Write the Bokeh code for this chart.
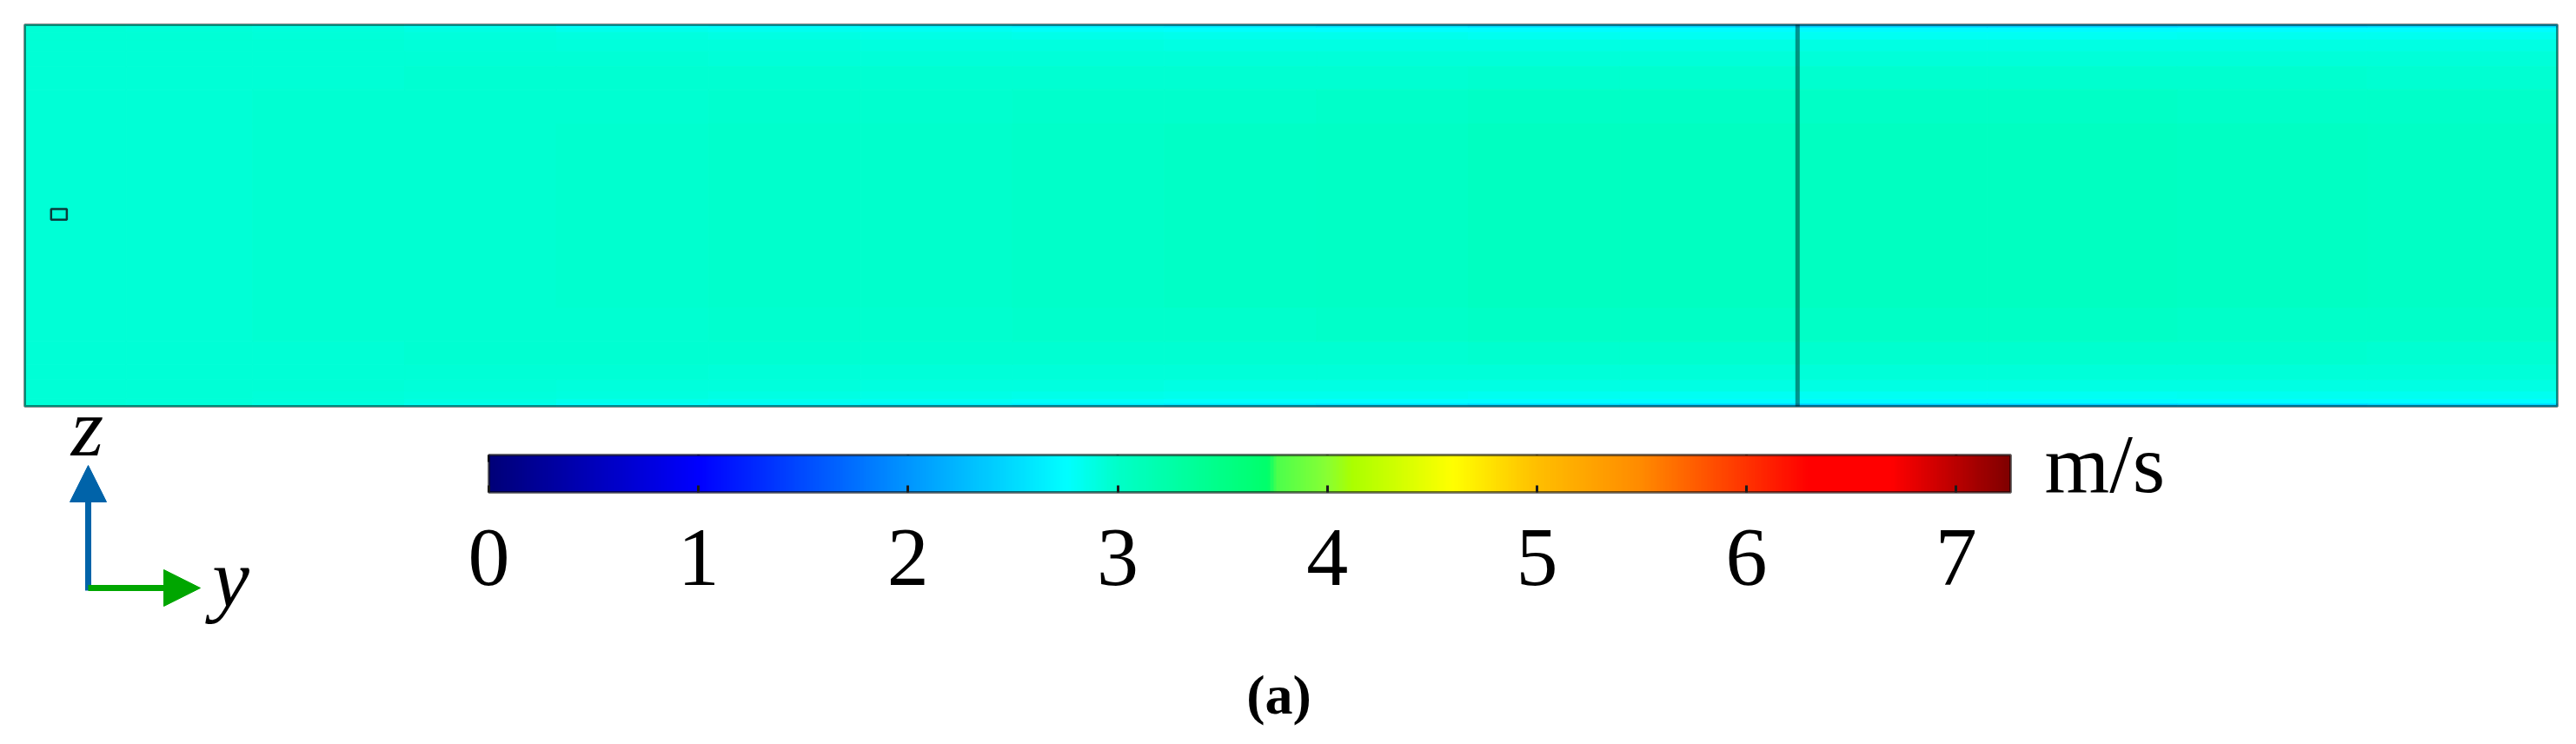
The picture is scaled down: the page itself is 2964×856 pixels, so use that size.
import numpy as np
from bokeh.plotting import figure
from bokeh.models import (Range1d, LinearColorMapper, ColorBar, FixedTicker, Label,
                          Arrow, NormalHead, ColumnDataSource)
from bokeh.embed import file_html
from bokeh.resources import INLINE

# ---------------- data ----------------
field_length = 10.0   # y extent (m)
field_height = 1.5    # z extent (m)

# column edges along y (m)
y_edges = [0.0, 0.4, 0.9, 1.5, 2.1, 2.7, 3.3, 3.9, 4.5, 5.1, 5.7, 6.3, 7.0, 7.75, 8.5, 9.25, 10.0]
# layer edges measured from each wall towards mid-height (m); last one bounds the core
wall_dist = [0.0, 0.012, 0.03, 0.06, 0.105, 0.165, 0.255, 0.39]

# velocity magnitude (m/s) per column: wall layer -> ... -> core (profile symmetric in z)
speed_profiles = [
    [2.93, 2.94, 2.94, 2.94, 2.94, 2.94, 2.94, 2.94],
    [2.91, 2.93, 2.94, 2.94, 2.94, 2.94, 2.945, 2.945],
    [2.87, 2.91, 2.93, 2.94, 2.94, 2.945, 2.95, 2.95],
    [2.82, 2.88, 2.91, 2.93, 2.94, 2.95, 2.955, 2.96],
    [2.76, 2.85, 2.90, 2.92, 2.94, 2.95, 2.96, 2.97],
    [2.71, 2.83, 2.88, 2.91, 2.93, 2.95, 2.965, 2.98],
    [2.66, 2.81, 2.87, 2.90, 2.93, 2.95, 2.97, 2.99],
    [2.61, 2.79, 2.86, 2.90, 2.93, 2.955, 2.98, 3.00],
    [2.57, 2.77, 2.85, 2.89, 2.93, 2.96, 2.99, 3.02],
    [2.53, 2.76, 2.84, 2.89, 2.93, 2.96, 3.00, 3.03],
    [2.48, 2.75, 2.83, 2.88, 2.93, 2.97, 3.01, 3.05],
    [2.42, 2.74, 2.82, 2.88, 2.93, 2.97, 3.01, 3.06],
    [2.36, 2.73, 2.82, 2.88, 2.93, 2.97, 3.01, 3.06],
    [2.36, 2.73, 2.82, 2.88, 2.93, 2.97, 3.01, 3.05],
    [2.40, 2.74, 2.83, 2.88, 2.93, 2.97, 3.00, 3.04],
    [2.44, 2.75, 2.83, 2.88, 2.93, 2.96, 3.00, 3.03],
]

interface_y = 7.0                 # internal boundary
probe_y, probe_z = 0.135, 0.755   # probe point
probe_w, probe_h = 0.062, 0.042

# colour table
speed_min, speed_max = 0.0, 7.26
cmap_values = [0.0, 1.0, 2.0, 2.76, 3.0, 3.72, 3.76, 4.0, 4.12, 4.6, 5.0, 5.5, 6.0, 6.3, 6.7, 7.26]
cmap_colors = ["#000078", "#0000ff", "#0096ff", "#00ffff", "#00ffc8", "#00ff6a", "#4cff4c",
               "#88ff33", "#aaff00", "#ffff00", "#ffbf00", "#ff8a00", "#ff3300", "#ff0000",
               "#ff0000", "#800000"]

tick_values = [0, 1, 2, 3, 4, 5, 6, 7]
tick_labels = ["0", "1", "2", "3", "4", "5", "6", "7"]
unit_label = "m/s"
axis_labels = ["z", "y"]
panel_label = "(a)"

# ---------------- palette ----------------
def hex_to_rgb(h):
    return [int(h[i:i + 2], 16) for i in (1, 3, 5)]

rgb = np.array([hex_to_rgb(c) for c in cmap_colors], dtype=float)
samples = np.linspace(speed_min, speed_max, 512)
palette = []
for v in samples:
    r, g, b = (int(round(np.interp(v, cmap_values, rgb[:, k]))) for k in range(3))
    palette.append("#%02x%02x%02x" % (r, g, b))

mapper = LinearColorMapper(palette=palette, low=speed_min, high=speed_max)

# ---------------- figure ----------------
W, H = 2948, 840
fx0, fx1 = 28, 2942        # field extent on canvas (px from left)
fy_bot, fy_top = 373, 812  # field extent (px from canvas bottom)
sx = (fx1 - fx0) / field_length
sy = (fy_top - fy_bot) / field_height

p = figure(width=W, height=H, output_backend="svg", toolbar_location=None,
           x_range=Range1d(-fx0 / sx, (W - fx0) / sx),
           y_range=Range1d(-fy_bot / sy, (H - fy_bot) / sy),
           x_axis_location=None, y_axis_location=None, min_border=0)
p.grid.visible = False
p.outline_line_color = None
p.background_fill_color = "white"
p.border_fill_color = "white"

# colour-bar geometry (canvas px)
cb_left, cb_right, cb_top, cb_height = 562, 2313, 523, 43
cb_scale = (cb_right - cb_left) / (speed_max - speed_min)

# helper ranges: canvas pixels for decorations, speed units for colour-bar ticks
p.extra_x_ranges = {"px": Range1d(0, W),
                    "cb": Range1d(speed_min - cb_left / cb_scale,
                                  speed_min + (W - cb_left) / cb_scale)}
p.extra_y_ranges = {"px": Range1d(H, 0)}

# field cells (lower layers, mirrored upper layers, core)
left, right, bottom, top, val = [], [], [], [], []
nl = len(wall_dist) - 1
for j, prof in enumerate(speed_profiles):
    for k in range(nl):
        for b, t in ((wall_dist[k], wall_dist[k + 1]),
                     (field_height - wall_dist[k + 1], field_height - wall_dist[k])):
            left.append(y_edges[j]); right.append(y_edges[j + 1])
            bottom.append(b); top.append(t); val.append(prof[k])
    left.append(y_edges[j]); right.append(y_edges[j + 1])
    bottom.append(wall_dist[-1]); top.append(field_height - wall_dist[-1]); val.append(prof[nl])

src = ColumnDataSource(dict(left=left, right=right, bottom=bottom, top=top, speed=val))
cmap_spec = {"field": "speed", "transform": mapper}
p.quad(left="left", right="right", bottom="bottom", top="top", source=src,
       fill_color=cmap_spec, line_color=cmap_spec, line_width=1)

# field outline, internal boundary, probe
p.quad(left=0, right=field_length, bottom=0, top=field_height, fill_color=None,
       line_color="black", line_alpha=0.45, line_width=3)
p.segment(x0=interface_y, y0=0, x1=interface_y, y1=field_height,
          line_color="black", line_alpha=0.42, line_width=5)
p.rect(x=probe_y, y=probe_z, width=probe_w, height=probe_h, fill_color=None,
       line_color="#0b3b3b", line_width=2.5)

# colour bar
cb = ColorBar(color_mapper=mapper, orientation="horizontal", location=(cb_left, 165),
              width=cb_right - cb_left, height=cb_height, padding=0, margin=0,
              ticker=FixedTicker(ticks=tick_values),
              major_label_overrides={v: s for v, s in zip(tick_values, tick_labels)},
              major_label_text_font="Liberation Serif", major_label_text_font_size="96px",
              major_label_text_color="black", label_standoff=43,
              major_tick_line_color="#1a1a1a", major_tick_line_width=3,
              major_tick_in=8, major_tick_out=0, minor_tick_line_color=None,
              bar_line_color="black", bar_line_alpha=0.55, bar_line_width=3,
              border_line_color=None, background_fill_color=None)
p.add_layout(cb)

# tick marks on the upper edge of the bar
p.segment(x0=tick_values, x1=tick_values, y0=[cb_top] * len(tick_values),
          y1=[cb_top + 8] * len(tick_values), x_range_name="cb", y_range_name="px",
          line_color="#1a1a1a", line_width=3)

p.add_layout(Label(x=2352, y=533, text=unit_label, x_range_name="px", y_range_name="px",
                   text_font="Liberation Serif", text_font_size="96px",
                   text_align="left", text_baseline="middle", text_color="black"))

# coordinate triad
blue, green = "#0063a9", "#00a600"
p.add_layout(Arrow(end=NormalHead(size=42, fill_color=blue, line_color=blue),
                   x_start=101, y_start=679, x_end=101, y_end=535,
                   line_color=blue, line_width=7, x_range_name="px", y_range_name="px"))
p.add_layout(Arrow(end=NormalHead(size=42, fill_color=green, line_color=green),
                   x_start=101, y_start=676, x_end=230, y_end=676,
                   line_color=green, line_width=7, x_range_name="px", y_range_name="px"))
p.add_layout(Label(x=100, y=491, text=axis_labels[0], x_range_name="px", y_range_name="px",
                   text_font="Liberation Serif", text_font_style="italic", text_color="black",
                   text_font_size="96px", text_align="center", text_baseline="middle"))
p.add_layout(Label(x=265, y=665, text=axis_labels[1], x_range_name="px", y_range_name="px",
                   text_font="Liberation Serif", text_font_style="italic", text_color="black",
                   text_font_size="96px", text_align="center", text_baseline="middle"))

# panel label
p.add_layout(Label(x=1471, y=799, text=panel_label, x_range_name="px", y_range_name="px",
                   text_font="Liberation Serif", text_font_style="bold", text_color="black",
                   text_font_size="64px", text_align="center", text_baseline="middle"))

open("out.html", "w").write(file_html(p, INLINE))
